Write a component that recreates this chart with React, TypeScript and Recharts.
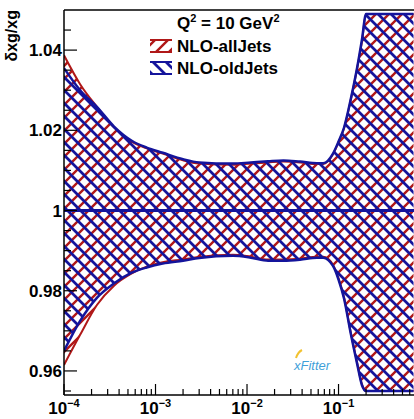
import { Area, ComposedChart, Legend, ReferenceLine, XAxis, YAxis } from "recharts";

// x grid (Bjorken x) and relative uncertainty band edges
const xValues = [
  1e-4, 1.5e-4, 2.3e-4, 3.5e-4, 5.5e-4, 8e-4, 1.2e-3, 2e-3, 3e-3, 7e-3, 1.1e-2, 1.7e-2,
  2.5e-2, 3.8e-2, 5.8e-2, 6.8e-2, 8.7e-2, 0.1, 0.115, 0.135, 0.16, 0.18, 0.2, 0.3, 0.45, 0.66,
];
const allJetsHigh = [
  1.0387, 1.0315, 1.0258, 1.0208, 1.0172, 1.0155, 1.0142, 1.0125, 1.0117, 1.0114, 1.0117, 1.012,
  1.0122, 1.012, 1.0116, 1.0116, 1.014, 1.017, 1.0205, 1.0272, 1.0355, 1.042, 1.049, 1.049, 1.049, 1.049,
];
const allJetsLow = [
  0.9615, 0.969, 0.9765, 0.9812, 0.9843, 0.986, 0.9871, 0.9878, 0.9884, 0.989, 0.9885, 0.9878,
  0.9878, 0.988, 0.9885, 0.9885, 0.9865, 0.9831, 0.9783, 0.97, 0.962, 0.9567, 0.955, 0.955, 0.955, 0.955,
];
const oldJetsHigh = [
  1.0355, 1.03, 1.0258, 1.021, 1.0174, 1.0157, 1.0144, 1.0128, 1.012, 1.0117, 1.012, 1.0123,
  1.0125, 1.0122, 1.0118, 1.0118, 1.0142, 1.0172, 1.0207, 1.0274, 1.0357, 1.0425, 1.049, 1.049, 1.049, 1.049,
];
const oldJetsLow = [
  0.965, 0.9725, 0.9783, 0.9818, 0.9845, 0.9858, 0.9868, 0.9875, 0.98815, 0.9887, 0.98825, 0.9875,
  0.9875, 0.98775, 0.98825, 0.98825, 0.9862, 0.9828, 0.978, 0.9697, 0.9617, 0.9565, 0.955, 0.955, 0.955, 0.955,
];

const xTicks = [
  1e-4, 2e-4, 3e-4, 4e-4, 5e-4, 6e-4, 7e-4, 8e-4, 9e-4,
  1e-3, 2e-3, 3e-3, 4e-3, 5e-3, 6e-3, 7e-3, 8e-3, 9e-3,
  1e-2, 2e-2, 3e-2, 4e-2, 5e-2, 6e-2, 7e-2, 8e-2, 9e-2,
  0.1, 0.2, 0.3, 0.4, 0.5, 0.6,
];
const xMajor = [1e-4, 1e-3, 1e-2, 0.1];
const xExponents = ["\u22124", "\u22123", "\u22122", "\u22121"];

const yTicks = [
  0.955, 0.96, 0.965, 0.97, 0.975, 0.98, 0.985, 0.99, 0.995, 1,
  1.005, 1.01, 1.015, 1.02, 1.025, 1.03, 1.035, 1.04, 1.045,
];
const yMajor = [0.96, 0.98, 1, 1.02, 1.04];
const yLabels = ["0.96", "0.98", "1", "1.02", "1.04"];

const data = xValues.map((x, i) => ({
  x,
  allJets: [allJetsLow[i], allJetsHigh[i]],
  oldJets: [oldJetsLow[i], oldJetsHigh[i]],
}));

const RED = "#b01818";
const BLUE = "#14149b";
const FONT = "'Liberation Sans', Arial, Helvetica, sans-serif";

function XTick({ x, y, payload }: any) {
  const i = xMajor.indexOf(payload.value);
  const major = i >= 0;
  return (
    <g>
      <line x1={x} x2={x} y1={y} y2={y - (major ? 11 : 6)} stroke="#000" strokeWidth={1.2} />
      {major && (
        <text x={x} y={y + 19} textAnchor="middle" fontSize={17} fontWeight="bold" fontFamily={FONT} fill="#000">
          10
          <tspan dy={-7} fontSize={11}>
            {xExponents[i]}
          </tspan>
        </text>
      )}
    </g>
  );
}

function YTick({ x, y, payload }: any) {
  const i = yMajor.indexOf(payload.value);
  const major = i >= 0;
  return (
    <g>
      <line x1={x} x2={x + (major ? 13 : 7)} y1={y} y2={y} stroke="#000" strokeWidth={1.2} />
      {major && (
        <text x={x - 2} y={y} dy={6} textAnchor="end" fontSize={17} fontWeight="bold" fontFamily={FONT} fill="#000">
          {yLabels[i]}
        </text>
      )}
    </g>
  );
}

function Overlay() {
  return (
    <svg width={414} height={419} style={{ display: "block", pointerEvents: "none" }}>
      <text
        transform="translate(17,10) rotate(-90)"
        textAnchor="end"
        fontSize={16}
        fontWeight="bold"
        fontFamily={FONT}
        fill="#000"
      >
        δxg/xg
      </text>
      <g fontFamily={FONT} fontWeight="bold" fontSize={17} fill="#000">
        <text x={177} y={29}>
          Q<tspan dy={-7} fontSize={11}>2</tspan>
          <tspan dy={7}> = 10 GeV</tspan>
          <tspan dy={-7} fontSize={11}>2</tspan>
        </text>
        <text x={177} y={52}>NLO-allJets</text>
        <text x={177} y={74}>NLO-oldJets</text>
      </g>
      <rect x={150} y={40} width={22} height={12} fill="url(#hatchRed)" />
      <line x1={150} x2={172} y1={40} y2={40} stroke={RED} strokeWidth={2} />
      <line x1={150} x2={172} y1={52} y2={52} stroke={RED} strokeWidth={2} />
      <rect x={150} y={62} width={22} height={12} fill="url(#hatchBlue)" />
      <line x1={150} x2={172} y1={62} y2={62} stroke={BLUE} strokeWidth={2} />
      <line x1={150} x2={172} y1={74} y2={74} stroke={BLUE} strokeWidth={2} />
      <path d="M296 358 q2 -6 6 -8" stroke="#f2c230" strokeWidth={2} fill="none" />
      <text x={294} y={370} fontSize={13} fontStyle="italic" fontFamily={FONT} fill="#3f9fd9">
        xFitter
      </text>
    </svg>
  );
}

export default function App() {
  return (
    <div style={{ position: "absolute", left: 0, top: 0, width: 414, height: 419, overflow: "hidden", background: "#fff" }}>
      <ComposedChart width={414} height={419} data={data} margin={{ top: 10, right: 0, bottom: 0, left: 0 }}>
        <defs>
          <pattern id="hatchRed" patternUnits="userSpaceOnUse" width={13} height={13}>
            <path d="M0 13 L13 0 M-2 2 L2 -2 M11 15 L15 11" stroke={RED} strokeWidth={2.4} />
          </pattern>
          <pattern id="hatchBlue" patternUnits="userSpaceOnUse" width={13} height={13}>
            <path d="M0 0 L13 13 M-2 11 L2 15 M11 -2 L15 2" stroke={BLUE} strokeWidth={2.8} />
          </pattern>
        </defs>
        <XAxis
          dataKey="x"
          type="number"
          scale="log"
          domain={[1e-4, 0.668]}
          allowDataOverflow
          ticks={xTicks}
          interval={0}
          tick={<XTick />}
          tickLine={false}
          tickSize={0}
          tickMargin={0}
          height={24}
          axisLine={{ stroke: "#000", strokeWidth: 1.5 }}
        />
        <YAxis
          type="number"
          domain={[0.954, 1.05]}
          allowDataOverflow
          ticks={yTicks}
          interval={0}
          tick={<YTick />}
          tickLine={false}
          tickSize={0}
          tickMargin={0}
          width={64}
          axisLine={{ stroke: "#000", strokeWidth: 1.5 }}
        />
        <Area
          type="monotone"
          dataKey="allJets"
          fill="url(#hatchRed)"
          fillOpacity={1}
          stroke={RED}
          strokeWidth={2}
          isAnimationActive={false}
          dot={false}
          activeDot={false}
        />
        <Area
          type="monotone"
          dataKey="oldJets"
          fill="url(#hatchBlue)"
          fillOpacity={1}
          stroke={BLUE}
          strokeWidth={2.5}
          isAnimationActive={false}
          dot={false}
          activeDot={false}
        />
        <ReferenceLine y={1} stroke={BLUE} strokeWidth={3} />
        <ReferenceLine y={1.05} stroke="#000" strokeWidth={1.5} />
        <Legend
          layout="vertical"
          align="center"
          verticalAlign="middle"
          content={() => <Overlay />}
          wrapperStyle={{ left: 0, top: 0, width: 414, height: 419, pointerEvents: "none" }}
        />
      </ComposedChart>
    </div>
  );
}
